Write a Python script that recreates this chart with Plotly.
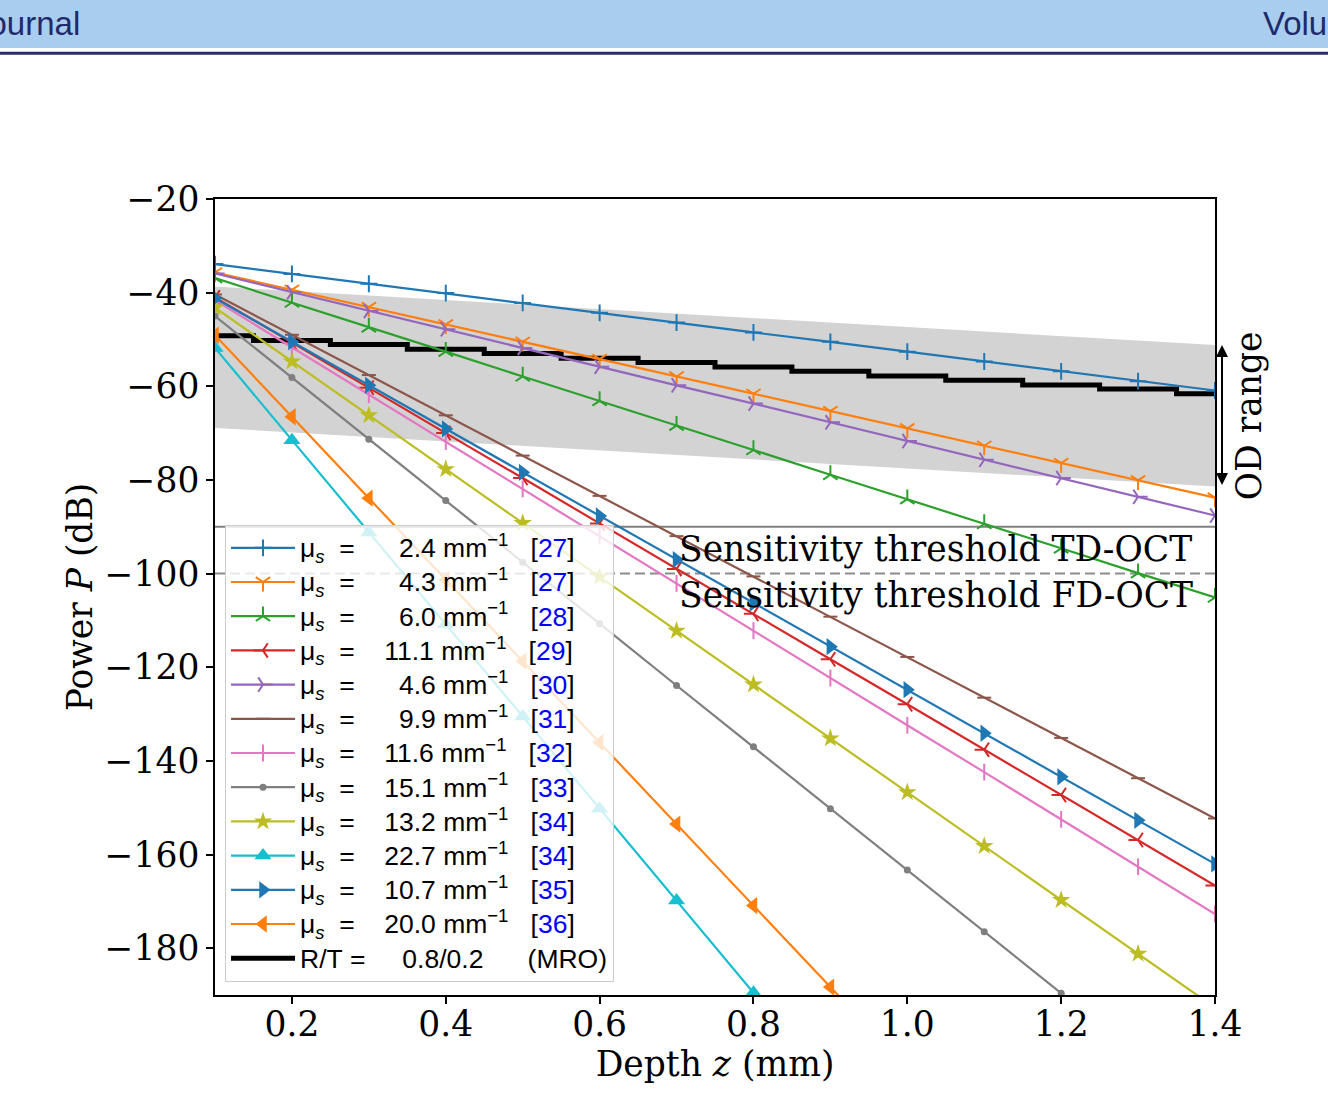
import plotly.graph_objects as go

# ---------------- data ----------------
depth = [0.1, 0.2, 0.3, 0.4, 0.5, 0.6, 0.7, 0.8, 0.9, 1.0, 1.1, 1.2, 1.3, 1.4]

mu_values = ["2.4", "4.3", "6.0", "11.1", "4.6", "9.9", "11.6", "15.1", "13.2", "22.7", "10.7", "20.0"]
mu_refs = ["27", "27", "28", "29", "30", "31", "32", "33", "34", "34", "35", "36"]

p_24 = [-33.9, -36.0, -38.1, -40.1, -42.2, -44.3, -46.4, -48.5, -50.5, -52.6, -54.7, -56.8, -58.9, -60.9]
p_43 = [-35.7, -39.4, -43.1, -46.8, -50.5, -54.2, -57.9, -61.6, -65.3, -69.0, -72.7, -76.4, -80.1, -83.8]
p_60 = [-36.9, -42.1, -47.4, -52.6, -57.9, -63.1, -68.4, -73.6, -78.9, -84.1, -89.4, -94.6, -99.9, -105.1]
p_111 = [-41.0, -50.7, -60.3, -70.0, -79.6, -89.3, -99.0, -108.6, -118.3, -127.9, -137.6, -147.3, -156.9, -166.6]
p_46 = [-35.9, -39.9, -43.9, -47.8, -51.8, -55.8, -59.8, -63.7, -67.7, -71.7, -75.7, -79.6, -83.6, -87.6]
p_99 = [-40.4, -49.0, -57.6, -66.2, -74.8, -83.4, -92.0, -100.6, -109.2, -117.8, -126.5, -135.1, -143.7, -152.3]
p_116 = [-41.6, -51.7, -61.8, -71.8, -81.9, -92.0, -102.1, -112.2, -122.3, -132.4, -142.4, -152.5, -162.6, -172.7]
p_151 = [-45.0, -58.1, -71.3, -84.4, -97.6, -110.7, -123.9, -137.0, -150.2, -163.3, -176.5, -189.6, -202.8, -215.9]
p_132 = [-43.2, -54.7, -66.2, -77.7, -89.2, -100.7, -112.2, -123.7, -135.2, -146.7, -158.2, -169.7, -181.2, -192.7]
p_227 = [-51.8, -71.5, -91.2, -110.8, -130.5, -150.2, -169.8, -189.5, -209.2, -228.8, -248.5, -268.2, -287.8, -307.5]
p_107 = [-41.2, -50.5, -59.8, -69.1, -78.4, -87.7, -97.0, -106.3, -115.6, -124.8, -134.1, -143.4, -152.7, -162.0]
p_200 = [-49.1, -66.5, -83.9, -101.3, -118.7, -136.1, -153.5, -170.9, -188.3, -205.7, -223.1, -240.5, -257.9, -275.3]

series_power = [p_24, p_43, p_60, p_111, p_46, p_99, p_116, p_151, p_132, p_227, p_107, p_200]

mro_power = [-49.2, -50.2, -51.1, -52.1, -53.0, -54.0, -54.9, -55.9, -56.8, -57.8, -58.7, -59.7, -60.6, -61.6]

band_depth = [0.1, 1.4]
band_upper = [-38.7, -51.2]
band_lower = [-68.9, -81.4]

td_threshold = -90
fd_threshold = -100

x_ticks = [0.2, 0.4, 0.6, 0.8, 1.0, 1.2, 1.4]
y_ticks = [-20, -40, -60, -80, -100, -120, -140, -160, -180]

# ---------------- styles ----------------
colors = ["#1f77b4", "#ff7f0e", "#2ca02c", "#d62728", "#9467bd", "#8c564b",
          "#e377c2", "#7f7f7f", "#bcbd22", "#17becf", "#1f77b4", "#ff7f0e"]
symbols = ["cross-thin-open", "y-down-open", "y-up-open", "y-left-open", "y-right-open",
           "line-ew-open", "line-ns-open", "circle", "star", "triangle-up",
           "triangle-right", "triangle-left"]
sizes = [12, 12, 12, 12, 12, 10, 12, 7, 14, 15, 15, 15]

SERIF = "DejaVu Serif"
SANS = "Liberation Sans"
FS = 34.5
NB = "\u00a0"
LEG_SPAN = "<span style='font-size:26.5px'>"

fig = go.Figure()

# gray OD band
fig.add_trace(go.Scatter(
    x=band_depth + band_depth[::-1], y=band_upper + band_lower[::-1],
    fill="toself", fillcolor="#d3d3d3", line=dict(width=0),
    mode="lines", showlegend=False, hoverinfo="skip"))

# thresholds
fig.add_trace(go.Scatter(x=[depth[0], depth[-1]], y=[td_threshold, td_threshold],
                         mode="lines", line=dict(color="#808080", width=2),
                         showlegend=False, hoverinfo="skip"))
fig.add_trace(go.Scatter(x=[depth[0], depth[-1]], y=[fd_threshold, fd_threshold],
                         mode="lines", line=dict(color="#8c8c8c", width=2, dash="10px,5px"),
                         showlegend=False, hoverinfo="skip"))

# MRO step line
fig.add_trace(go.Scatter(
    x=depth, y=mro_power, mode="lines", line=dict(color="black", width=5, shape="hvh"),
    name=LEG_SPAN + "R/T" + NB + "=" + NB * 5 + "0.8/0.2" + NB * 6 + "(MRO)</span>",
    legendrank=13, legendgroup="g13"))

for i, (vals, mu, ref) in enumerate(zip(series_power, mu_values, mu_refs)):
    pad = NB * 2 if len(mu) == 3 else ""
    label = (LEG_SPAN + "μ<sub><i>s</i></sub>" + NB * 2 + "=" + NB * 4 + pad + mu + NB +
             "mm<sup>−1</sup>" + NB * 3 + "[" +
             "<span style='color:blue'>" + ref + "</span>]</span>")
    sym = symbols[i]
    opened = sym.endswith("open") or sym.startswith("line")
    marker = dict(symbol=sym, size=sizes[i], color=colors[i],
                  line=dict(color=colors[i], width=2 if opened else 0))
    fig.add_trace(go.Scatter(
        x=depth, y=vals, mode="lines+markers", name=label,
        line=dict(color=colors[i], width=2.2), marker=marker,
        legendrank=i + 1, legendgroup="g%d" % i))

annotations = [
    dict(x=0.7, y=-94.8, xref="x", yref="y", text="Sensitivity threshold TD-OCT",
         showarrow=False, xanchor="left", yanchor="middle",
         font=dict(family=SERIF, size=FS, color="black")),
    dict(x=0.7, y=-104.6, xref="x", yref="y", text="Sensitivity threshold FD-OCT",
         showarrow=False, xanchor="left", yanchor="middle",
         font=dict(family=SERIF, size=FS, color="black")),
    dict(x=1.007, y=band_upper[-1], xref="paper", yref="y",
         ax=0, ay=(band_upper[-1] - band_lower[-1]) * 796 / 170,
         text="", showarrow=True, arrowhead=2, arrowside="end+start",
         arrowsize=1.2, arrowwidth=2, arrowcolor="black"),
    dict(x=1.034, y=-66.4, xref="paper", yref="y", text="OD range", textangle=-90,
         showarrow=False, xanchor="center", yanchor="middle",
         font=dict(family=SERIF, size=FS, color="black")),
    dict(x=-0.133, y=1.220, xref="paper", yref="paper", text="Journal", showarrow=False,
         xanchor="right", yanchor="middle", font=dict(family=SANS, size=33, color="#1f2a6b")),
    dict(x=1.046, y=1.220, xref="paper", yref="paper", text="Volume", showarrow=False,
         xanchor="left", yanchor="middle", font=dict(family=SANS, size=33, color="#1f2a6b")),
]

shapes = [
    dict(type="rect", xref="paper", yref="paper", x0=-0.3, x1=1.2, y0=1.1897, y1=1.26,
         fillcolor="#a9cdee", line=dict(width=0), layer="below"),
    dict(type="line", xref="paper", yref="paper", x0=-0.3, x1=1.2, y0=1.183, y1=1.183,
         line=dict(color="#2b2b6e", width=3)),
]

fig.update_layout(
    width=1328, height=1119,
    margin=dict(l=215, r=113, t=199, b=124),
    paper_bgcolor="white", plot_bgcolor="white",
    annotations=annotations, shapes=shapes,
    legend=dict(x=0.01, y=0.0167, xanchor="left", yanchor="bottom",
                bgcolor="rgba(255,255,255,0.8)", bordercolor="#cccccc", borderwidth=1,
                font=dict(family=SANS, size=24, color="black"), tracegroupgap=0,
                traceorder="grouped", itemwidth=64),
    showlegend=True,
)

fig.update_xaxes(range=[0.1, 1.4], tickvals=x_ticks, ticktext=["%.1f" % v for v in x_ticks],
                 showline=True, mirror=True, linecolor="black", linewidth=1.5,
                 ticks="outside", ticklen=7, tickwidth=1.5, tickcolor="black",
                 showgrid=False, zeroline=False, ticklabelstandoff=-9,
                 tickfont=dict(family=SERIF, size=FS, color="black"),
                 title=dict(text="Depth <i>z</i> (mm)", font=dict(family=SERIF, size=FS, color="black"),
                            standoff=0),
                 automargin=False)
fig.update_yaxes(range=[-190, -20], tickvals=y_ticks,
                 showline=True, mirror=True, linecolor="black", linewidth=1.5,
                 ticks="outside", ticklen=7, tickwidth=1.5, tickcolor="black",
                 showgrid=False, zeroline=False,
                 tickfont=dict(family=SERIF, size=FS, color="black"),
                 title=dict(text="Power <i>P</i> (dB)", font=dict(family=SERIF, size=FS, color="black"),
                            standoff=2),
                 automargin=False)

fig.write_html("out.html")
